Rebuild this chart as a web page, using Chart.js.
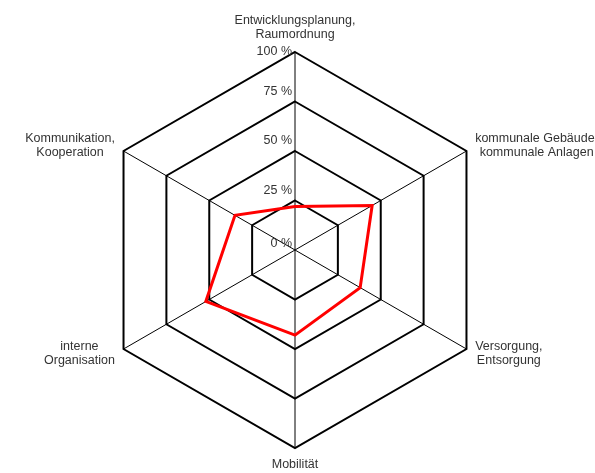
<!DOCTYPE html>
<html>
<head>
<meta charset="utf-8">
<script src="https://cdn.jsdelivr.net/npm/chart.js@4/dist/chart.umd.min.js"></script>
<style>
  html, body { margin: 0; padding: 0; background: #fff; }
  #wrap { width: 595px; height: 473px; position: relative; }
</style>
</head>
<body>
<div id="wrap"><canvas id="radarChart"></canvas></div>
<script>
const categories = [
  ["Entwicklungsplanung,", "Raumordnung"],
  ["kommunale Gebäude,", "kommunale Anlagen"],
  ["Versorgung,", "Entsorgung"],
  ["Mobilität"],
  ["interne", "Organisation"],
  ["Kommunikation,", "Kooperation"]
];
const values = [22, 45, 38, 43, 52, 35];
const tickValues = [0, 25, 50, 75, 100];
const tickLabels = ["0 %", "25 %", "50 %", "75 %", "100 %"];

const FONT = "12.5px Arial, 'Liberation Sans', sans-serif";

// own labels: tick labels left of the vertical axis, point labels outside the hexagon
const labelPlugin = {
  id: "labels",
  afterDraw(chart) {
    const ctx = chart.ctx;
    const scale = chart.scales.r;
    ctx.save();
    ctx.font = FONT;
    ctx.fillStyle = "#333";

    ctx.textAlign = "right";
    ctx.textBaseline = "middle";
    tickValues.forEach((v, i) => {
      const y = scale.yCenter - scale.getDistanceFromCenterForValue(v);
      const off = i === tickValues.length - 1 ? 0 : (i === 0 ? -6 : -10);
      ctx.fillText(tickLabels[i], scale.xCenter - 3, y + off);
    });

    const lh = 14;
    categories.forEach((lines, i) => {
      const p = scale.getPointPosition(i, scale.drawingArea + 10);
      const w = Math.max(...lines.map(l => ctx.measureText(l).width));
      let cx = p.x;
      if (p.x > scale.xCenter + 5) cx = p.x + w / 2;
      else if (p.x < scale.xCenter - 5) cx = p.x - w / 2;
      let top;
      if (i === 0) top = p.y - lines.length * lh;
      else if (i === 3) top = p.y;
      else top = p.y - lines.length * lh / 2;
      ctx.textAlign = "center";
      lines.forEach((l, k) => ctx.fillText(l, cx, top + lh * k + lh / 2));
    });
    ctx.restore();
  }
};

new Chart(document.getElementById("radarChart"), {
  type: "radar",
  data: {
    labels: categories,
    datasets: [{
      data: values,
      borderColor: "#ff0000",
      borderWidth: 3,
      borderJoinStyle: "miter",
      fill: false,
      tension: 0,
      pointRadius: 0
    }]
  },
  options: {
    responsive: true,
    maintainAspectRatio: false,
    animation: false,
    layout: { padding: { left: 50, right: 55, top: 52, bottom: 25 } },
    plugins: { legend: { display: false }, tooltip: { enabled: false } },
    scales: {
      r: {
        min: 0,
        max: 100,
        ticks: { stepSize: 25, display: false },
        pointLabels: { display: false },
        grid: { color: "#000", lineWidth: 2 },
        angleLines: { color: "#000", lineWidth: 1 }
      }
    }
  },
  plugins: [labelPlugin]
});
</script>
</body>
</html>
